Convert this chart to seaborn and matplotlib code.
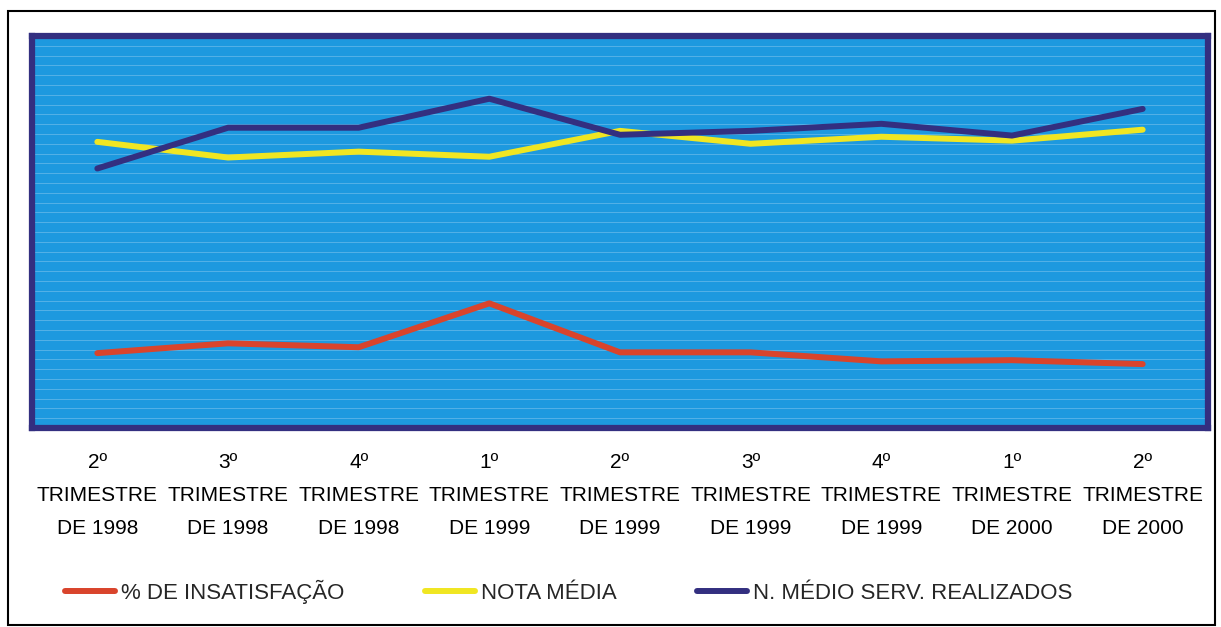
import matplotlib
matplotlib.use("Agg")
import matplotlib.pyplot as plt
import seaborn as sns
import pandas as pd
import numpy as np
from matplotlib.patches import Rectangle

trimestres = ["2º\nTRIMESTRE\nDE 1998", "3º\nTRIMESTRE\nDE 1998", "4º\nTRIMESTRE\nDE 1998",
              "1º\nTRIMESTRE\nDE 1999", "2º\nTRIMESTRE\nDE 1999", "3º\nTRIMESTRE\nDE 1999",
              "4º\nTRIMESTRE\nDE 1999", "1º\nTRIMESTRE\nDE 2000", "2º\nTRIMESTRE\nDE 2000"]
insatisfacao = [19.1, 21.6, 20.6, 31.8, 19.3, 19.3, 17.0, 17.3, 16.3]
nota_media = [73.0, 69.0, 70.5, 69.2, 75.8, 72.5, 74.3, 73.3, 76.1]
servicos = [66.2, 76.6, 76.6, 84.0, 74.8, 75.8, 77.6, 74.6, 81.4]

series = ["% DE INSATISFAÇÃO", "NOTA MÉDIA", "N. MÉDIO SERV. REALIZADOS"]
cores = {"% DE INSATISFAÇÃO": "#d9442c", "NOTA MÉDIA": "#f0e622",
         "N. MÉDIO SERV. REALIZADOS": "#332f80"}

df = pd.DataFrame({
    "pos": list(range(len(trimestres))) * 3,
    "valor": insatisfacao + nota_media + servicos,
    "serie": [series[0]] * 9 + [series[1]] * 9 + [series[2]] * 9,
})

sns.set_theme(style="white")
plt.rcParams["font.family"] = ["Liberation Sans", "DejaVu Sans"]

fig = plt.figure(figsize=(12.21, 6.27), dpi=100)
W, H = 1221, 627
ax = fig.add_axes([32 / W, 1 - 428 / H, (1208 - 32) / W, (428 - 36) / H])
ax.set_facecolor("#1d99df")

sns.lineplot(data=df, x="pos", y="valor", hue="serie", palette=cores,
             hue_order=series, linewidth=4.3, ax=ax)

ax.set_xlim(-0.5, 8.5)
ax.set_ylim(0, 100)

# faint horizontal lines across the plot area
ax.set_yticks(np.arange(2.5, 100, 2.5))
ax.yaxis.grid(True, color="white", alpha=0.28, linewidth=0.6)
ax.set_axisbelow(True)
ax.tick_params(axis="y", length=0, labelleft=False)

ax.set_xticks(range(len(trimestres)))
ax.set_xticklabels(trimestres, fontsize=15, color="black", linespacing=1.93)
ax.set_xticks(np.arange(-0.5, 9, 1), minor=True)
ax.tick_params(axis="x", which="major", length=0, pad=18)
ax.tick_params(axis="x", which="minor", length=6, width=3.5, color="#332f80", direction="out")
ax.set_xlabel("")
ax.set_ylabel("")

for s in ax.spines.values():
    s.set_color("#332f80")
    s.set_linewidth(4.5)

handles, labels = ax.get_legend_handles_labels()
ax.get_legend().remove()
fig.legend(handles, labels, loc="center left", bbox_to_anchor=(65 / W, 1 - 592 / H),
           ncol=3, frameon=False, fontsize=16, handlelength=2.25, handletextpad=0.25,
           columnspacing=3.65, borderpad=0, borderaxespad=0)

# outer thin frame
fig.patches.append(Rectangle((8 / W, 2 / H), (1215 - 8) / W, (616 - 2) / H,
                             transform=fig.transFigure, fill=False,
                             edgecolor="black", linewidth=1.5))

fig.savefig("out.png", dpi=100, facecolor="white")
